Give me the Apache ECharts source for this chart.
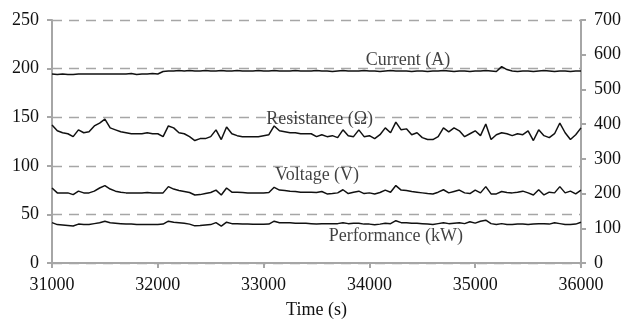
<!DOCTYPE html>
<html>
<head>
<meta charset="utf-8">
<script src="https://cdn.jsdelivr.net/npm/echarts@6/dist/echarts.min.js"></script>
<style>
html,body{margin:0;padding:0;background:#fff;}
#c{width:623px;height:320px;}
</style>
</head>
<body>
<div id="c"></div>
<script>
// Sampling of the time axis (s)
const timeStart = 31000;
const timeStep = 50;

// Series values
const current = [194.5,194,194.5,194,194,194.5,194.5,194.5,194.5,194.5,
 194.5,194.5,194.5,194.5,194.5,195,194,194.5,194.5,195,
 194.5,197,197.5,197.5,198,197.5,198,197.5,197.5,198,
 197.5,197.5,198,197.5,197.5,198,197.5,197.5,197.5,198,
 197.5,197.5,198,197.5,197.5,197.5,198,197.5,197.5,197.5,
 198,197.5,197.5,197,197.5,198,197.5,197.5,197.5,198,
 197.5,197.5,197,197.5,198,197.5,197.5,197.5,197,197.5,
 197.5,197,197.5,197.5,198,197.5,197,197.5,197.5,197,
 197.5,197.5,198,197.5,197,202,199,197.5,197,197.5,
 197.5,197,197.5,198,197.5,197,197.5,197.5,197,197.5,
 197.5];

const resistance = [142,136,134,133,130,137,134,135,141,144,
 148,139,137,135,134,133,133,133,134,133,
 133,130,141,139,134,133,130,126,128,128,
 130,137,127,140,133,131,130,130,130,130,
 131,132,141,136,135,134,134,133,133,133,
 130,132,130,131,129,137,131,130,137,130,
 131,128,132,139,134,145,137,138,132,134,
 129,127,127,130,139,135,139,136,130,133,
 136,131,143,127,132,134,133,131,133,132,
 136,126,137,131,129,133,144,134,127,132,
 139];

// Voltage in V (right axis)
const voltage = [216,202,202,202,197,207,202,202,207,216,
 223,213,207,204,202,202,202,202,203,202,
 202,202,220,213,209,206,203,196,197,200,
 203,210,196,216,204,204,203,202,202,202,
 202,203,218,210,209,207,206,204,204,204,
 203,206,199,200,202,211,200,204,207,200,
 202,199,203,210,204,223,210,209,206,204,
 202,200,199,204,211,202,206,210,202,200,
 210,202,220,199,199,206,203,202,204,207,
 202,196,211,196,204,202,220,202,207,199,
 210];

const performance = [41.5,39.5,39,38.5,38,40,39.5,39.5,40.5,41.5,
 43,41.5,41,40.5,40,40,39.5,39.5,39.5,39.5,
 39.5,40,43,42,41.5,41,40,38.2,38.5,39,
 39.5,41.5,38,42,40.5,40.5,40,40,39.8,39.8,
 39.8,40,43,41.5,41.5,41.5,41,41,40.8,40.5,
 40.2,40.5,40.5,40.5,40.5,41.5,40.5,41,41,40,
 40,39.3,40,41,40.5,43.5,41.5,41.5,41,41,
 40.5,40,39.5,40.5,41.5,40.5,41,41.5,40.5,42.5,
 41,43,44,40.5,39.5,40.5,39.5,39.5,40,40,
 39.5,40,40.5,40.5,40,41.5,40.5,39.5,39.5,40,
 42];

// Axis ticks
const xTicks = {min: 31000, max: 36000, interval: 1000};
const leftTicks = {min: 0, max: 250, interval: 50};
const rightTicks = {min: 0, max: 700, interval: 100};

// Series labels: [name, time, left-axis value]
const seriesLabels = [
  ['Current (A)', 34365, 209],
  ['Resistance (\u03a9)', 33530, 148],
  ['Voltage (V)', 33505, 90.5],
  ['Performance (kW)', 34250, 28]
];

function pairs(arr) {
  return arr.map((v, i) => [timeStart + i * timeStep, v]);
}

const FONT = 'Liberation Serif';
const axisGray = '#a6a6a6';
const textColor = '#111';
const lineColor = '#111';

function lineSeries(name, data, yIdx) {
  return {
    name: name,
    type: 'line',
    yAxisIndex: yIdx,
    data: pairs(data),
    showSymbol: false,
    symbol: 'none',
    lineStyle: {color: lineColor, width: 1.5},
    itemStyle: {color: lineColor},
    animation: false,
    z: 3
  };
}

const labelSeries = {
  type: 'scatter',
  yAxisIndex: 0,
  symbolSize: 0,
  silent: true,
  animation: false,
  itemStyle: {color: 'rgba(0,0,0,0)'},
  data: seriesLabels.map(l => ({value: [l[1], l[2]], name: l[0]})),
  label: {
    show: true,
    position: 'inside',
    formatter: p => p.name,
    fontFamily: FONT,
    fontSize: 18,
    color: textColor,
    textBorderWidth: 0,
    textShadowBlur: 0
  },
  z: 5
};

const labelStyle = {fontFamily: FONT, fontSize: 18, color: textColor, margin: 13};

const chart = echarts.init(document.getElementById('c'), null, {renderer: 'canvas'});
chart.setOption({
  animation: false,
  backgroundColor: '#fff',
  grid: {left: 52, right: 42, top: 20, bottom: 57, containLabel: false, outerBoundsMode: 'none'},
  xAxis: {
    type: 'value',
    min: xTicks.min, max: xTicks.max, interval: xTicks.interval,
    name: 'Time (s)',
    nameLocation: 'middle',
    nameGap: 38,
    nameTextStyle: {fontFamily: FONT, fontSize: 18, color: textColor},
    axisLine: {show: true, lineStyle: {color: axisGray, width: 2}},
    axisTick: {show: true, length: 5, lineStyle: {color: axisGray, width: 2}},
    axisLabel: Object.assign({formatter: v => String(v)}, labelStyle),
    splitLine: {show: false}
  },
  yAxis: [
    {
      type: 'value',
      position: 'left',
      min: leftTicks.min, max: leftTicks.max, interval: leftTicks.interval,
      axisLine: {show: true, lineStyle: {color: axisGray, width: 2}},
      axisTick: {show: true, length: 5, lineStyle: {color: axisGray, width: 2}},
      axisLabel: Object.assign({formatter: v => String(v)}, labelStyle),
      splitLine: {show: true, lineStyle: {color: '#a6a6a6', width: 1.3, type: [10, 7]}}
    },
    {
      type: 'value',
      position: 'right',
      min: rightTicks.min, max: rightTicks.max, interval: rightTicks.interval,
      axisLine: {show: true, lineStyle: {color: axisGray, width: 2}},
      axisTick: {show: true, length: 5, lineStyle: {color: axisGray, width: 2}},
      axisLabel: Object.assign({formatter: v => String(v)}, labelStyle),
      splitLine: {show: false}
    }
  ],
  series: [
    lineSeries('Current (A)', current, 0),
    lineSeries('Resistance (\u03a9)', resistance, 0),
    lineSeries('Voltage (V)', voltage, 1),
    lineSeries('Performance (kW)', performance, 0),
    labelSeries
  ]
});
</script>
</body>
</html>
